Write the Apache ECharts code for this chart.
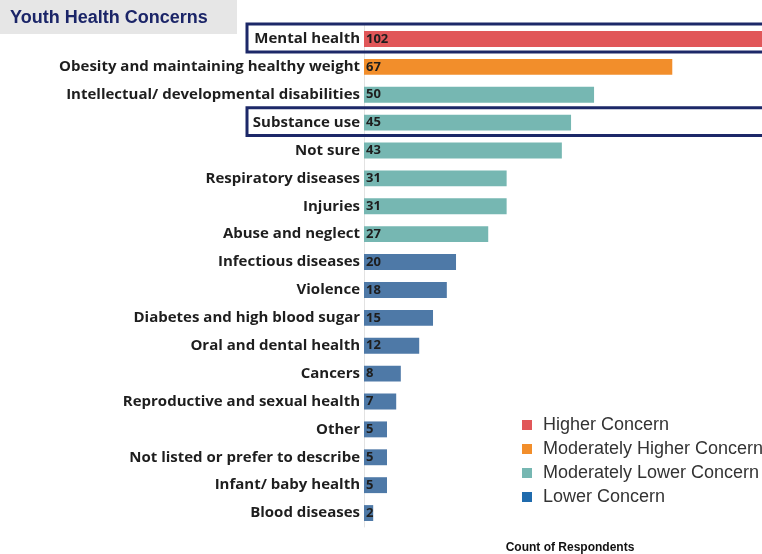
<!DOCTYPE html>
<html>
<head>
<meta charset="utf-8">
<script src="https://cdn.jsdelivr.net/npm/echarts@6/dist/echarts.min.js"></script>
<style>
  html, body { margin: 0; padding: 0; background: #ffffff; }
  #chart { width: 762px; height: 554px; }
</style>
</head>
<body>
<div id="chart"></div>
<script>
// Health concerns reported for youth, in display order (top to bottom)
const categories = [
  'Mental health',
  'Obesity and maintaining healthy weight',
  'Intellectual/ developmental disabilities',
  'Substance use',
  'Not sure',
  'Respiratory diseases',
  'Injuries',
  'Abuse and neglect',
  'Infectious diseases',
  'Violence',
  'Diabetes and high blood sugar',
  'Oral and dental health',
  'Cancers',
  'Reproductive and sexual health',
  'Other',
  'Not listed or prefer to describe',
  'Infant/ baby health',
  'Blood diseases'
];

// Count of respondents per concern
const counts = [102, 67, 50, 45, 43, 31, 31, 27, 20, 18, 15, 12, 8, 7, 5, 5, 5, 2];

// Concern level per row (index into levelNames)
const levelIndex = [0, 1, 2, 2, 2, 2, 2, 2, 3, 3, 3, 3, 3, 3, 3, 3, 3, 3];

const levelNames = ['Higher Concern', 'Moderately Higher Concern', 'Moderately Lower Concern', 'Lower Concern'];
const levelColors = ['#e15759', '#f28e2b', '#76b7b2', '#4e79a7'];
const legendColors = ['#e15759', '#f28e2b', '#76b7b2', '#1f6bad'];

// Rows outlined for emphasis
const highlighted = ['Mental health', 'Substance use'];

// Visible part of the count axis; the longest bar is cut off at the right edge
const visibleMax = 86.5;

const chart = echarts.init(document.getElementById('chart'), null, { renderer: 'canvas' });

const series = levelNames.map((name, li) => ({
  name: name,
  type: 'bar',
  stack: 'all',
  clip: true,
  barCategoryGap: '43%',
  itemStyle: { color: levelColors[li] },
  label: {
    show: true,
    position: 'insideLeft',
    distance: 2,
    color: '#1e1e1e',
    fontFamily: 'Open Sans',
    fontWeight: 'bold',
    fontSize: 13,
    formatter: p => p.value
  },
  data: counts.map((v, i) => (levelIndex[i] === li ? v : '-'))
}));

const option = {
  animation: false,
  backgroundColor: '#ffffff',
  grid: { left: 364, top: 25, right: 0, height: 502, containLabel: false },
  xAxis: {
    type: 'value',
    min: 0,
    max: visibleMax,
    show: false
  },
  yAxis: {
    type: 'category',
    inverse: true,
    data: categories,
    axisTick: { show: false },
    axisLine: { show: true, lineStyle: { color: '#e2e2e2', width: 1 } },
    axisLabel: {
      margin: 4,
      color: '#1e1e1e',
      fontFamily: 'Open Sans',
      fontWeight: 'bold',
      fontSize: 15
    }
  },
  legend: {
    orient: 'vertical',
    left: 517,
    top: 411,
    icon: 'rect',
    itemWidth: 10,
    itemHeight: 10,
    itemGap: 6,
    textStyle: { fontFamily: 'Liberation Sans', fontSize: 18, lineHeight: 18, color: '#333333', padding: [0, 0, 0, 6] },
    data: levelNames.map((n, i) => ({ name: n, itemStyle: { color: legendColors[i] } }))
  },
  series: series
};

chart.setOption(option);

// Title panel, axis caption and outlines around emphasised rows
const band = 502 / categories.length;
const graphics = [
  {
    type: 'rect',
    shape: { x: 0, y: 0, width: 237, height: 34 },
    style: { fill: '#e6e6e6' },
    z: 1
  },
  {
    type: 'text',
    x: 10,
    y: 18,
    style: {
      text: 'Youth Health Concerns',
      fill: '#1b2568',
      font: 'bold 18px "Liberation Sans", Arial, sans-serif',
      textVerticalAlign: 'middle'
    },
    z: 2
  },
  {
    type: 'text',
    x: 570,
    y: 548,
    style: {
      text: 'Count of Respondents',
      fill: '#111111',
      font: 'bold 12px "Liberation Sans", Arial, sans-serif',
      textAlign: 'center',
      textVerticalAlign: 'middle'
    }
  }
];
highlighted.forEach(name => {
  const cy = chart.convertToPixel({ yAxisIndex: 0 }, name);
  graphics.push({
    type: 'rect',
    shape: { x: 247, y: cy - band / 2 - 1, width: 600, height: band },
    style: { fill: 'none', stroke: '#1c2868', lineWidth: 3 },
    z: 10
  });
});
chart.setOption({ graphic: graphics });
</script>
</body>
</html>
